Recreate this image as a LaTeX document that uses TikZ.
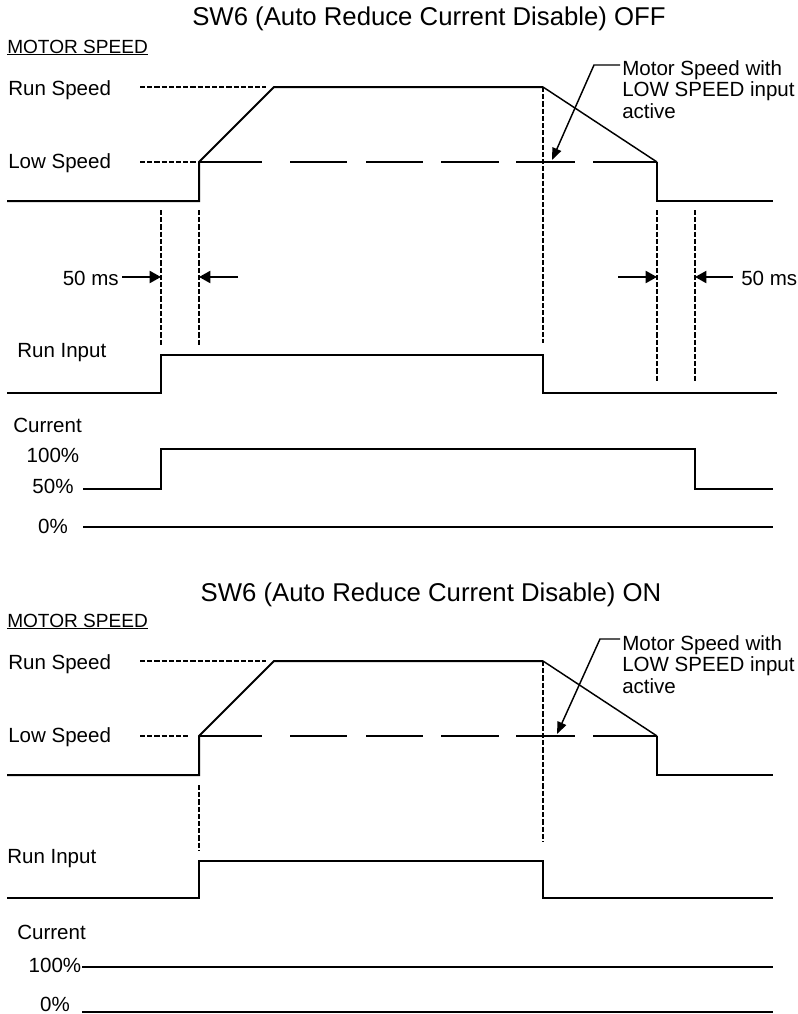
\documentclass[tikz,border=0pt]{standalone}
\usepackage{fontspec}
\setmainfont{Liberation Sans}
\usetikzlibrary{arrows.meta}
\begin{document}
\begin{tikzpicture}[x=0.75pt,y=-0.75pt,
  sig/.style={line width=1.5pt, line join=miter},
  slopeline/.style={line width=1.1pt},
  finedash/.style={line width=1pt, dash pattern=on 3.9pt off 1.5pt},
  longdash/.style={line width=1.5pt, dash pattern=on 47.25pt off 21pt on 42.75pt off 14.25pt on 42.75pt off 13.5pt on 43.5pt off 12.75pt on 44.25pt off 13.5pt on 48pt off 50pt},
  lbl/.style={inner sep=0pt, font=\fontsize{15.4}{16.1}\selectfont},
  ttl/.style={inner sep=0pt, font=\fontsize{19.3}{22}\selectfont},
  hdr/.style={inner sep=0pt, font=\fontsize{14.3}{16}\selectfont},
  dim/.style={line width=1.5pt, -{Triangle[length=8.5pt,width=9pt]}},
  lead/.style={line width=1.1pt, -{Triangle[length=9pt,width=7pt]}},
]
\fill[white] (0,0) rectangle (797,1014);
\useasboundingbox (0,0) rectangle (797,1014);

% ================= TOP : SW6 OFF =================
\node[ttl, anchor=base] (t1) at (429,25) {SW6 (Auto Reduce Current Disable) OFF};
\node[hdr, anchor=base west] (ms1) at (7,53) {MOTOR SPEED};
\draw[line width=0.9pt] ([yshift=-1.3pt]ms1.base west) -- ([yshift=-1.3pt]ms1.base east);
\node[lbl, anchor=base west] (rs1) at (8,95) {Run Speed};
\node[lbl, anchor=base west] (ls1) at (8,168) {Low Speed};

\draw[finedash] (140,87) -- (266,87);
\draw[finedash] (140,162) -- (197,162);

\draw[sig] (7,201) -- (199,201) -- (199,162) -- (274,87) -- (543,87);
\draw[slopeline] (543,87) -- (657,162);
\draw[sig] (657,162) -- (657,201) -- (773,201);
\draw[longdash] (199,162) -- (657,162);

\draw[finedash] (543,87) -- (543,343);
\draw[finedash] (161,210) -- (161,345);
\draw[finedash] (199,210) -- (199,345);
\draw[finedash] (657,210) -- (657,382);
\draw[finedash] (695,210) -- (695,382);

\node[lbl, anchor=base east] (d1) at (119,285) {50 ms};
\draw[dim] (122,277) -- (161,277);
\draw[dim] (238,277) -- (199,277);
\draw[dim] (618,277) -- (657,277);
\draw[dim] (733,277) -- (695,277);
\node[lbl, anchor=base west] (d2) at (741,285) {50 ms};

\node[lbl, anchor=north west, align=left] (m1) at (622,60) {Motor Speed with\\LOW SPEED input\\active};
\coordinate (k1) at (594,65);
\coordinate (tip1) at (552,160);
\draw[lead] (620,65) -- (k1) -- (tip1);

\node[lbl, anchor=base west] (ri1) at (17,357) {Run Input};
\draw[sig] (7,393) -- (161,393) -- (161,355) -- (543,355) -- (543,393) -- (777,393);

\node[lbl, anchor=base west] (c1) at (13,432) {Current};
\node[lbl, anchor=base] (pa1) at (53,462) {100\%};
\node[lbl, anchor=base] (pb1) at (53,493) {50\%};
\node[lbl, anchor=base] (pc1) at (53,533) {0\%};
\draw[sig] (83,489) -- (161,489) -- (161,449) -- (695,449) -- (695,489) -- (773,489);
\draw[sig] (83,527) -- (773,527);

% ================= BOTTOM : SW6 ON =================
\node[ttl, anchor=base] (t2) at (431,601) {SW6 (Auto Reduce Current Disable) ON};
\node[hdr, anchor=base west] (ms2) at (7,627) {MOTOR SPEED};
\draw[line width=0.9pt] ([yshift=-1.3pt]ms2.base west) -- ([yshift=-1.3pt]ms2.base east);
\node[lbl, anchor=base west] (rs2) at (8,669) {Run Speed};
\node[lbl, anchor=base west] (ls2) at (8,742) {Low Speed};

\draw[finedash] (140,661) -- (266,661);
\draw[finedash] (140,736) -- (189,736);

\draw[sig] (7,775) -- (199,775) -- (199,736) -- (274,661) -- (543,661);
\draw[slopeline] (543,661) -- (657,736);
\draw[sig] (657,736) -- (657,775) -- (773,775);
\draw[longdash] (199,736) -- (657,736);

\draw[finedash] (543,661) -- (543,842);
\draw[finedash] (199,785) -- (199,851);

\node[lbl, anchor=north west, align=left] (m2) at (622,635) {Motor Speed with\\LOW SPEED input\\active};
\coordinate (k2) at (600,639);
\coordinate (tip2) at (557,734);
\draw[lead] (620,639) -- (k2) -- (tip2);

\node[lbl, anchor=base west] (ri2) at (7,863) {Run Input};
\draw[sig] (7,898) -- (199,898) -- (199,861) -- (543,861) -- (543,898) -- (773,898);

\node[lbl, anchor=base west] (c2) at (17,939) {Current};
\node[lbl, anchor=base] (pa2) at (55,972) {100\%};
\node[lbl, anchor=base] (pc2) at (55,1011) {0\%};
\draw[sig] (82,967) -- (773,967);
\draw[sig] (82,1012) -- (773,1012);
\end{tikzpicture}
\end{document}
